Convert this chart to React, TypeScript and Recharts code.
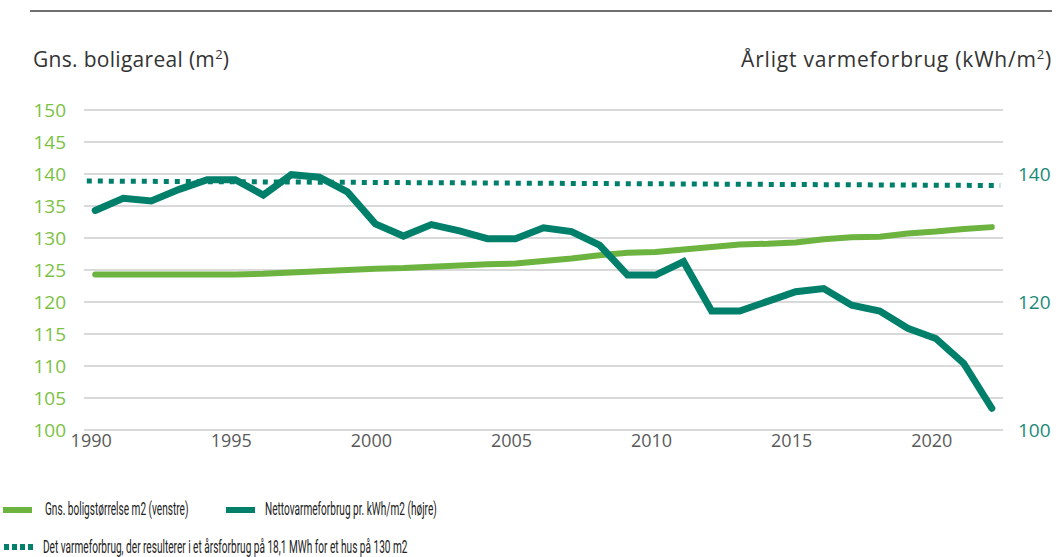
import { LineChart, Line, XAxis, YAxis, CartesianGrid, ReferenceLine } from 'recharts'

const years = [
  1990, 1991, 1992, 1993, 1994, 1995, 1996, 1997, 1998, 1999, 2000, 2001, 2002, 2003, 2004, 2005, 2006,
  2007, 2008, 2009, 2010, 2011, 2012, 2013, 2014, 2015, 2016, 2017, 2018, 2019, 2020, 2021, 2022,
]
// Gns. boligstørrelse m2 (venstre akse)
const boligareal = [
  124.3, 124.3, 124.3, 124.3, 124.3, 124.3, 124.4, 124.6, 124.8, 125.0, 125.2, 125.3, 125.5, 125.7, 125.9, 126.0, 126.4,
  126.8, 127.3, 127.7, 127.8, 128.2, 128.6, 129.0, 129.1, 129.3, 129.8, 130.1, 130.2, 130.7, 131.0, 131.4, 131.7,
]
// Nettovarmeforbrug pr. kWh/m2 (højre akse)
const varmeforbrug = [
  134.3, 136.2, 135.8, 137.6, 139.1, 139.1, 136.7, 139.9, 139.5, 137.2, 132.2, 130.3, 132.1, 131.1, 129.9, 129.9, 131.6,
  131.0, 128.9, 124.2, 124.2, 126.3, 118.6, 118.6, 120.1, 121.6, 122.1, 119.5, 118.6, 115.9, 114.3, 110.4, 103.4,
]
// 18,1 MWh / 130 m2 reference
const refX = [1989.7, 2022.3]
const refY = [138.9, 138.2]

const xTicks = [1990, 1995, 2000, 2005, 2010, 2015, 2020]
const leftTicks = [100, 105, 110, 115, 120, 125, 130, 135, 140, 145, 150]
const rightTicks = [100, 120, 140]

const GREEN = '#6db33f'
const TEAL = '#007f6b'
const FONT = '"Open Sans", sans-serif'

const chartData = years.map((year, i) => ({
  year,
  areal: boligareal[i],
  varme: varmeforbrug[i],
}))

// legend text is a narrow face in the original, squeeze Roboto
const legendText: React.CSSProperties = {
  position: 'absolute',
  fontSize: 18,
  color: '#222',
  fontFamily: 'Roboto, sans-serif',
  transform: 'scaleX(0.56)',
  transformOrigin: 'left center',
  whiteSpace: 'nowrap',
}

export default function App() {
  return (
    <div style={{ position: 'absolute', left: 0, top: 0, width: 1059, height: 557, background: '#fff', fontFamily: FONT }}>
      <div style={{ position: 'absolute', left: 30, top: 10, width: 1022, height: 2, background: '#6f6f6f' }} />
      <div style={{ position: 'absolute', left: 33, top: 45, fontSize: 21, letterSpacing: 0.3, color: '#333' }}>
        Gns. boligareal (m<sup style={{ fontSize: 13 }}>2</sup>)
      </div>
      <div style={{ position: 'absolute', right: 7, top: 45, fontSize: 21, letterSpacing: 0.8, color: '#333' }}>
        Årligt varmeforbrug (kWh/m<sup style={{ fontSize: 13 }}>2</sup>)
      </div>

      <LineChart
        width={1059}
        height={557}
        data={chartData}
        margin={{ top: 110, right: 0, bottom: 97, left: 34 }}
        style={{ position: 'absolute', left: 0, top: 0 }}
      >
        <CartesianGrid yAxisId="left" vertical={false} stroke="#d9d9d9" strokeWidth={2} />
        <XAxis
          dataKey="year"
          type="number"
          domain={[1989.6, 2022.4]}
          ticks={xTicks}
          axisLine={false}
          tickLine={false}
          tickSize={0}
          tickMargin={4}
          height={30}
          tick={{ fill: '#595959', fontSize: 18, fontFamily: FONT, dx: -4 }}
        />
        <YAxis
          yAxisId="left"
          domain={[100, 150]}
          ticks={leftTicks}
          axisLine={false}
          tickLine={false}
          tickSize={0}
          tickMargin={18}
          width={50}
          tick={{ fill: '#7cc142', fontSize: 19, fontFamily: FONT }}
        />
        <YAxis
          yAxisId="right"
          orientation="right"
          domain={[100, 150]}
          ticks={rightTicks}
          axisLine={false}
          tickLine={false}
          tickSize={0}
          tickMargin={15}
          width={56}
          tick={{ fill: '#1a8a78', fontSize: 19, fontFamily: FONT }}
        />
        <ReferenceLine
          yAxisId="right"
          segment={[
            { x: refX[0], y: refY[0] },
            { x: refX[1], y: refY[1] },
          ]}
          stroke={TEAL}
          strokeWidth={5}
          strokeDasharray="5 6"
        />
        <Line
          yAxisId="left"
          dataKey="areal"
          stroke={GREEN}
          strokeWidth={6}
          dot={false}
          strokeLinecap="round"
          strokeLinejoin="round"
          isAnimationActive={false}
        />
        <Line
          yAxisId="right"
          dataKey="varme"
          stroke={TEAL}
          strokeWidth={7}
          dot={false}
          strokeLinecap="round"
          strokeLinejoin="miter"
          isAnimationActive={false}
        />
      </LineChart>

      <div style={{ position: 'absolute', left: 3, top: 507, width: 29, height: 6, background: GREEN }} />
      <div style={{ ...legendText, left: 45, top: 498 }}>Gns. boligstørrelse m2 (venstre)</div>
      <div style={{ position: 'absolute', left: 226, top: 507, width: 29, height: 6, background: TEAL }} />
      <div style={{ ...legendText, left: 265, top: 498 }}>Nettovarmeforbrug pr. kWh/m2 (højre)</div>
      <div style={{ position: 'absolute', left: 4, top: 544, display: 'flex', gap: 3 }}>
        {[0, 1, 2, 3].map((i) => (
          <div key={i} style={{ width: 5, height: 6, background: TEAL }} />
        ))}
      </div>
      <div style={{ ...legendText, left: 43, top: 536 }}>
        Det varmeforbrug, der resulterer i et årsforbrug på 18,1 MWh for et hus på 130 m2
      </div>
    </div>
  )
}
